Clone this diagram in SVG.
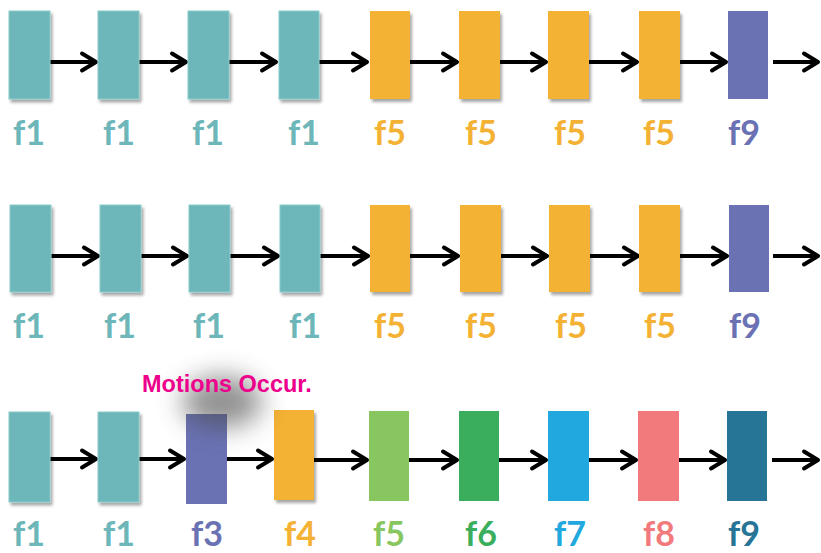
<svg xmlns="http://www.w3.org/2000/svg" width="821" height="553" viewBox="0 0 821 553">
<style>
.teal{fill:#6db6b9;stroke:#8ccbcc;stroke-width:1}
.yel{fill:#f4b234}
.pur{fill:#6a72b4}
.lgr{fill:#88c660}
.grn{fill:#3aae5c}
.blu{fill:#21a8de}
.pnk{fill:#f27a7d}
.dtl{fill:#277596}
.sh{filter:url(#ds)}
.lbl{font-family:Lato,"Liberation Sans",sans-serif;font-weight:700;font-size:34px;text-anchor:middle}
.arr{stroke:#000;stroke-width:4;fill:none;marker-end:url(#ah)}
</style>
<defs>
<filter id="ds" x="-20%" y="-10%" width="150%" height="130%">
<feGaussianBlur in="SourceAlpha" stdDeviation="1.5"/>
<feOffset dx="1.5" dy="3" result="b"/>
<feComponentTransfer><feFuncA type="linear" slope="0.35"/></feComponentTransfer>
<feMerge><feMergeNode/><feMergeNode in="SourceGraphic"/></feMerge>
</filter>
<filter id="glow" x="-100%" y="-100%" width="300%" height="300%">
<feGaussianBlur stdDeviation="13"/>
</filter>
<marker id="ah" markerUnits="userSpaceOnUse" markerWidth="24" markerHeight="24" viewBox="-18 -12 20 24" refX="0" refY="0" orient="auto">
<path d="M-14,-8.5 L0,0 L-14,8.5" fill="none" stroke="#000" stroke-width="4" stroke-linecap="round" stroke-linejoin="round"/>
</marker>
</defs>

<g id="connectors">
<path class="arr" d="M50,62H96"/>
<path class="arr" d="M139,62H186"/>
<path class="arr" d="M229,62H276"/>
<path class="arr" d="M319,62H367"/>
<path class="arr" d="M410,62H457"/>
<path class="arr" d="M500,62H546"/>
<path class="arr" d="M589,62H637"/>
<path class="arr" d="M680,62H726"/>
<path class="arr" d="M773,62H818"/>

<path class="arr" d="M51,256H98"/>
<path class="arr" d="M141,256H187"/>
<path class="arr" d="M230,256H278"/>
<path class="arr" d="M320,256H368"/>
<path class="arr" d="M410,256H458"/>
<path class="arr" d="M501,256H547"/>
<path class="arr" d="M590,256H638"/>
<path class="arr" d="M680,256H727"/>
<path class="arr" d="M773,256H818"/>

<path class="arr" d="M50,459H96"/>
<path class="arr" d="M139,459H184"/>
<path class="arr" d="M227,459H272"/>
<path class="arr" d="M314,460H367"/>
<path class="arr" d="M409,460H457"/>
<path class="arr" d="M499,460H546"/>
<path class="arr" d="M589,460H636"/>
<path class="arr" d="M679,460H725"/>
<path class="arr" d="M772,460H818"/>
</g>

<!-- Row 1 -->
<g id="r1n1"><rect class="teal sh" x="9" y="11" width="41" height="88"/><text class="lbl" x="29" y="145" fill="#6db6b9">f1</text></g>
<g id="r1n2"><rect class="teal sh" x="98" y="11" width="41" height="88"/><text class="lbl" x="119" y="145" fill="#6db6b9">f1</text></g>
<g id="r1n3"><rect class="teal sh" x="188" y="11" width="41" height="88"/><text class="lbl" x="208" y="145" fill="#6db6b9">f1</text></g>
<g id="r1n4"><rect class="teal sh" x="279" y="11" width="40" height="88"/><text class="lbl" x="304" y="145" fill="#6db6b9">f1</text></g>
<g id="r1n5"><rect class="yel sh" x="370" y="11" width="40" height="88"/><text class="lbl" x="390" y="145" fill="#f4b234">f5</text></g>
<g id="r1n6"><rect class="yel sh" x="459" y="11" width="41" height="88"/><text class="lbl" x="481" y="145" fill="#f4b234">f5</text></g>
<g id="r1n7"><rect class="yel sh" x="548" y="11" width="41" height="88"/><text class="lbl" x="570" y="145" fill="#f4b234">f5</text></g>
<g id="r1n8"><rect class="yel sh" x="639" y="11" width="41" height="88"/><text class="lbl" x="659" y="145" fill="#f4b234">f5</text></g>
<g id="r1n9"><rect class="pur" x="728" y="11" width="40" height="88"/><text class="lbl" x="744" y="145" fill="#6a72b4">f9</text></g>

<!-- Row 2 -->
<g id="r2n1"><rect class="teal sh" x="10" y="205" width="41" height="87"/><text class="lbl" x="29" y="338" fill="#6db6b9">f1</text></g>
<g id="r2n2"><rect class="teal sh" x="100" y="205" width="41" height="87"/><text class="lbl" x="120" y="338" fill="#6db6b9">f1</text></g>
<g id="r2n3"><rect class="teal sh" x="189" y="205" width="41" height="87"/><text class="lbl" x="209" y="338" fill="#6db6b9">f1</text></g>
<g id="r2n4"><rect class="teal sh" x="280" y="205" width="40" height="87"/><text class="lbl" x="305" y="338" fill="#6db6b9">f1</text></g>
<g id="r2n5"><rect class="yel sh" x="370" y="205" width="40" height="87"/><text class="lbl" x="390" y="338" fill="#f4b234">f5</text></g>
<g id="r2n6"><rect class="yel sh" x="460" y="205" width="41" height="87"/><text class="lbl" x="481" y="338" fill="#f4b234">f5</text></g>
<g id="r2n7"><rect class="yel sh" x="549" y="205" width="41" height="87"/><text class="lbl" x="571" y="338" fill="#f4b234">f5</text></g>
<g id="r2n8"><rect class="yel sh" x="639" y="205" width="41" height="87"/><text class="lbl" x="660" y="338" fill="#f4b234">f5</text></g>
<g id="r2n9"><rect class="pur" x="729" y="205" width="40" height="87"/><text class="lbl" x="745" y="338" fill="#6a72b4">f9</text></g>

<!-- Row 3 -->
<g id="r3n1"><rect class="teal sh" x="9" y="412" width="41" height="90"/><text class="lbl" x="29" y="546" fill="#6db6b9">f1</text></g>
<g id="r3n2"><rect class="teal sh" x="98" y="412" width="41" height="90"/><text class="lbl" x="119" y="546" fill="#6db6b9">f1</text></g>
<g id="r3n3"><rect class="pur" x="186" y="414" width="41" height="90"/><text class="lbl" x="207" y="546" fill="#6a72b4">f3</text></g>
<g id="r3n4"><rect class="yel sh" x="274" y="410" width="40" height="90"/><text class="lbl" x="300" y="546" fill="#f4b234">f4</text></g>
<g id="glowshade"><ellipse cx="222" cy="402" rx="40" ry="26" fill="#4a4a4a" opacity="0.6" filter="url(#glow)"/></g>
<g id="r3n5"><rect class="lgr" x="369" y="411" width="40" height="90"/><text class="lbl" x="389" y="546" fill="#88c660">f5</text></g>
<g id="r3n6"><rect class="grn" x="459" y="411" width="40" height="90"/><text class="lbl" x="481" y="546" fill="#3aae5c">f6</text></g>
<g id="r3n7"><rect class="blu" x="548" y="411" width="41" height="90"/><text class="lbl" x="570" y="546" fill="#21a8de">f7</text></g>
<g id="r3n8"><rect class="pnk" x="638" y="411" width="41" height="90"/><text class="lbl" x="659" y="546" fill="#f27a7d">f8</text></g>
<g id="r3n9"><rect class="dtl" x="727" y="411" width="40" height="90"/><text class="lbl" x="744" y="546" fill="#277596">f9</text></g>

<g id="annotation"><text x="142" y="392" font-family="'Liberation Sans',Arial,sans-serif" font-weight="700" font-size="23.5" fill="#ec008c">Motions Occur.</text></g>
</svg>
